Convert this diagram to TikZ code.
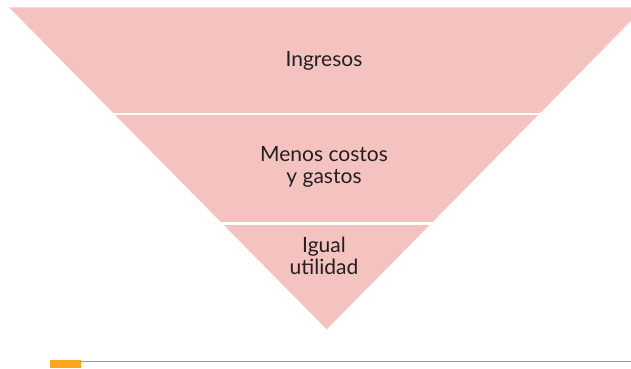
\documentclass[tikz,border=0pt]{standalone}
\usepackage{fontspec}
\setmainfont{Lato}
\definecolor{funnelpink}{HTML}{F4C3BF}
\definecolor{labeltext}{HTML}{231F20}
\definecolor{rulegray}{HTML}{9D9D9D}
\definecolor{taborange}{HTML}{F9A51E}
\tikzset{
  lbl/.style={text=labeltext, align=center, inner sep=0pt,
    font=\fontsize{21}{22}\selectfont},
  gap/.style={draw=white, line width=2.6pt}
}
\begin{document}
\begin{tikzpicture}[x=1pt,y=1pt]
\useasboundingbox (0,0) rectangle (631,368);
\begin{scope}
\clip (0,0) rectangle (631,368);
% funnel (inverted triangle)
\coordinate (tl) at (9,360.7);
\coordinate (tr) at (644.4,360.7);
\coordinate (apex) at (326.7,38.7);
\fill[funnelpink] (tl) -- (tr) -- (apex) -- cycle;
% white separators
\draw[gap] (100,254) -- (560,254);
\draw[gap] (200,144.5) -- (450,144.5);
\end{scope}
% labels
\node[lbl, anchor=base] (ingresos) at (324,301.3) {Ingresos};
\node[lbl, anchor=base] (menos) at (324,184.5) {Menos costos\\y gastos};
\node[lbl, anchor=base] (igual) at (324,93.3) {Igual\\utilidad};
% bottom rule and tab
\draw[rulegray, line width=1.3pt] (81,6.7) -- (631,6.7);
\fill[taborange] (50,0) rectangle (81,8);
\end{tikzpicture}
\end{document}
